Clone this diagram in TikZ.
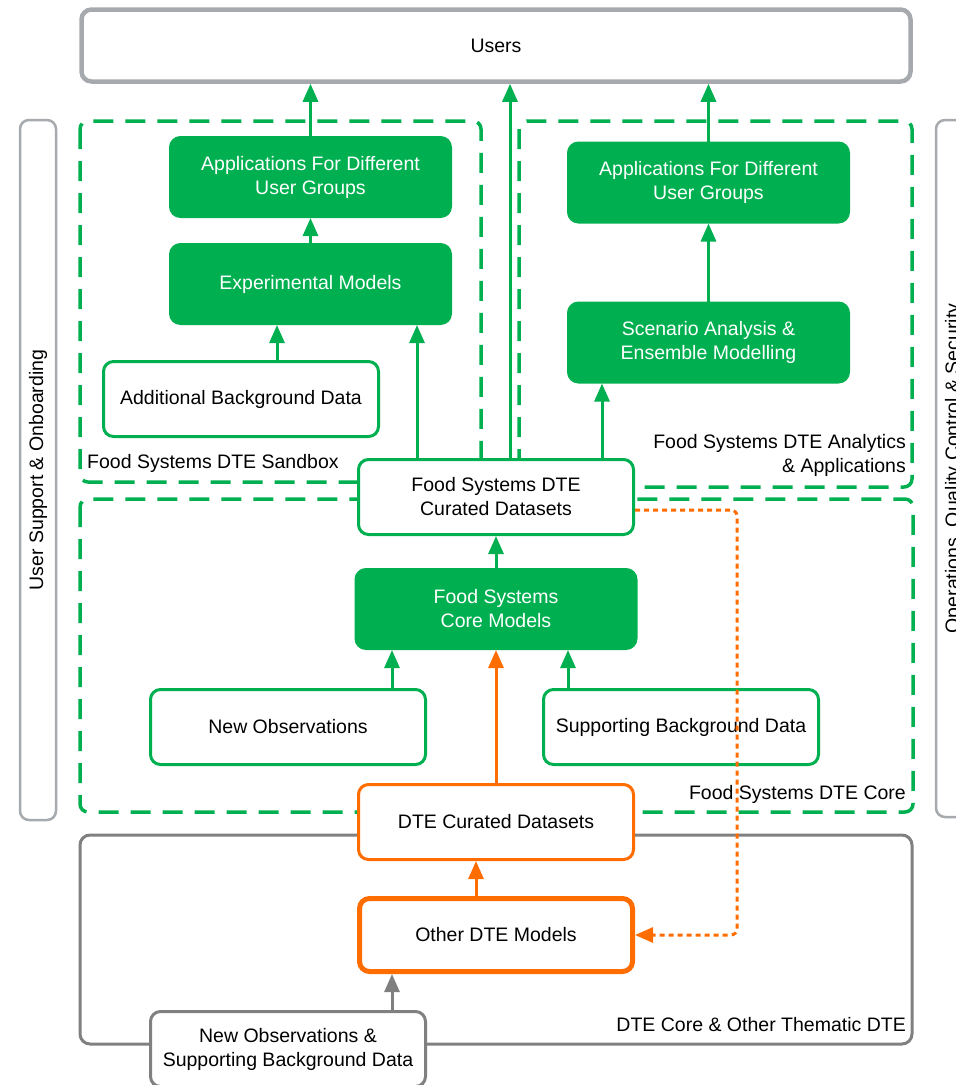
\documentclass[tikz,border=0pt]{standalone}
\usepackage{fontspec}
\setmainfont{Liberation Sans}
\usepackage{xcolor}
\usepackage{tikz}
\usetikzlibrary{positioning,arrows.meta}
\definecolor{dtegreen}{RGB}{0,176,80}
\definecolor{dteorange}{RGB}{255,108,0}
\definecolor{usergray}{RGB}{166,170,174}
\definecolor{coregray}{RGB}{128,128,128}
\tikzstyle{model}=[rectangle, draw=dtegreen, fill=dtegreen, rounded corners=10pt, line width=3pt,
        text=white, align=center, minimum width=280pt, minimum height=79pt]
\tikzstyle{dataset}=[rectangle, draw=dtegreen, fill=white, rounded corners=10pt, line width=3pt,
        text=black, align=center, minimum width=275pt, minimum height=75pt]
\tikzstyle{orangedata}=[dataset, draw=dteorange]
\tikzstyle{othermodel}=[dataset, draw=dteorange, line width=5pt, minimum width=273pt, minimum height=73pt]
\tikzstyle{graydata}=[dataset, draw=coregray]
\tikzstyle{sidebar}=[rectangle, draw=usergray, rounded corners=9pt, line width=2.5pt, rotate=90,
        minimum height=36pt, inner sep=0pt]
\tikzstyle{area}=[draw=dtegreen, rounded corners=8pt, line width=3.5pt, dash pattern=on 20pt off 12pt]
\tikzstyle{arealabel}=[inner sep=0pt]
\tikzstyle{flow}=[-{Triangle[length=18pt,width=15pt]}, line width=3pt, draw=dtegreen]

\begin{document}
\begin{tikzpicture}[x=1pt, y=-1pt, node distance=25pt, font=\fontsize{19.5}{24}\selectfont]
        \useasboundingbox (0,0) rectangle (956,1085);

        \draw[area] (80,121) rectangle (481,482);
        \draw[area] (519,121) rectangle (912,487);
        \draw[area] (80,499) rectangle (913,812);
        \draw[draw=coregray, line width=3pt, rounded corners=10pt] (80,835) rectangle (912,1044);

        \node (sandboxlabel) [arealabel, anchor=west] at (87,463) {Food Systems DTE Sandbox};
        \node (analyticslabel) [arealabel, anchor=east, align=right] at (906,455)
        {Food Systems DTE Analytics\\\& Applications};
        \node (corelabel) [arealabel, anchor=east] at (906,794) {Food Systems DTE Core};
        \node (thematiclabel) [arealabel, anchor=east] at (906,1025) {DTE Core \& Other Thematic DTE};

        \node (users) [rectangle, draw=usergray, line width=4.5pt, rounded corners=10pt,
          minimum width=829pt, minimum height=72pt] at (496,45.5) {Users};
        \node (support) [sidebar, minimum width=700pt] at (38,470) {User Support \& Onboarding};
        \node (operations) [sidebar, minimum width=697pt] at (954,468.5)
        {Operations, Quality Control \& Security};

        \node (appleft) [model] at (310.5,177) {Applications For Different\\User Groups};
        \node (expmodels) [model, below=of appleft] {Experimental Models};
        \node (addbg) [dataset] at (241,399) {Additional Background Data};

        \node (appright) [model] at (708.5,182.5) {Applications For Different\\User Groups};
        \node (scenario) [model, below=78pt of appright] {Scenario Analysis \&\\Ensemble Modelling};

        \node (fsdata) [dataset] at (496,497) {Food Systems DTE\\Curated Datasets};
        \node (coremodels) [model, below=32pt of fsdata] {Food Systems\\Core Models};
        \node (newobs) [dataset] at (288,727) {New Observations};
        \node (supbg) [dataset] at (681,727) {Supporting Background Data};

        \node (dtedata) [orangedata] at (496,822) {DTE Curated Datasets};
        \node (othermodels) [othermodel, below=35pt of dtedata] {Other DTE Models};
        \node (newobsbg) [graydata, below=36pt of othermodels, xshift=-208pt]
        {New Observations \&\\Supporting Background Data};

        \draw[flow] (appleft) -- (appleft |- users.south);
        \draw[flow] (expmodels) -- (appleft);
        \draw[flow] ([xshift=36pt]addbg.north) -- ([xshift=36pt]addbg.north |- expmodels.south);
        \draw[flow] ([xshift=-79pt]fsdata.north) -- ([xshift=-79pt]fsdata.north |- expmodels.south);
        \draw[flow] ([xshift=14pt]fsdata.north) -- ([xshift=14pt]fsdata.north |- users.south);
        \draw[flow] ([xshift=106pt]fsdata.north) -- ([xshift=106pt]fsdata.north |- scenario.south);
        \draw[flow] (scenario) -- (appright);
        \draw[flow] (appright) -- (appright |- users.south);
        \draw[flow] (coremodels) -- (fsdata);
        \draw[flow] ([xshift=104pt]newobs.north) -- ([xshift=104pt]newobs.north |- coremodels.south);
        \draw[flow] ([xshift=-113pt]supbg.north) -- ([xshift=-113pt]supbg.north |- coremodels.south);
        \draw[flow, draw=dteorange] (dtedata) -- (coremodels);
        \draw[flow, draw=dteorange] ([xshift=-20pt]othermodels.north) -- ([xshift=-20pt]othermodels.north |- dtedata.south);
        \draw[flow, draw=coregray] ([xshift=104pt]newobsbg.north) -- ([xshift=104pt]newobsbg.north |- othermodels.south);
        \draw[flow, draw=dteorange, dash pattern=on 5pt off 4pt, rounded corners=6pt]
          ([yshift=-13pt]fsdata.east) -- ++(102,0) |- (othermodels.east);
      \end{tikzpicture}
\end{document}
